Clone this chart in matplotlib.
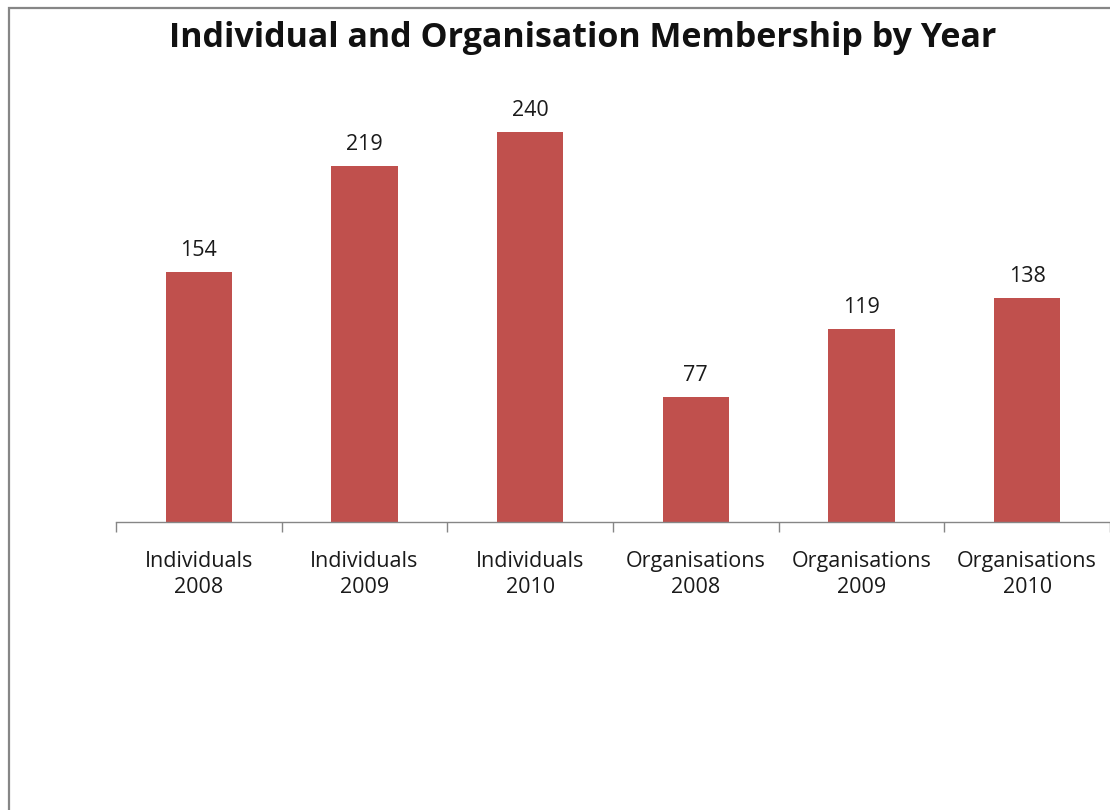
import matplotlib
matplotlib.use("Agg")
import matplotlib.pyplot as plt
from matplotlib.patches import Rectangle

# Membership counts per category
groups = ["Individuals", "Individuals", "Individuals",
          "Organisations", "Organisations", "Organisations"]
years = ["2008", "2009", "2010", "2008", "2009", "2010"]
members = [154, 219, 240, 77, 119, 138]

bar_color = "#C0504D"
axis_gray = "#868686"
text_color = "#1a1a1a"

plt.rcParams["font.family"] = ["Open Sans", "DejaVu Sans"]

fig = plt.figure(figsize=(11.1, 8.1), dpi=100)

# Chart area border (runs off the right and bottom edges)
fig.patches.append(Rectangle((8.5 / 1110, -0.1), 1.2, 1.1 - 7.5 / 810,
                             transform=fig.transFigure, fill=False,
                             edgecolor=axis_gray, linewidth=1.6))

ax = fig.add_axes([116 / 1110, 288 / 810, 994 / 1110, 487.5 / 810])

x = list(range(len(members)))
bars = ax.bar(x, members, width=0.4, color=bar_color)

ax.set_xlim(-0.5, len(members) - 0.5)
ax.set_ylim(0, 300)

# Value labels above each bar
for xi, v in zip(x, members):
    ax.annotate(str(v), (xi, v), xytext=(0, 11.5), textcoords="offset points",
                ha="center", va="baseline", fontsize=15.5, color=text_color)

# Category labels centred, tick marks on the boundaries
ax.set_xticks(x)
ax.set_xticklabels([f"{g}\n{y}" for g, y in zip(groups, years)],
                   fontsize=15.5, color=text_color, linespacing=1.32)
ax.tick_params(axis="x", which="major", length=0, pad=21)
ax.set_xticks([i - 0.5 for i in range(len(members) + 1)], minor=True)
ax.tick_params(axis="x", which="minor", length=7, color=axis_gray, width=1)

ax.set_yticks([])
for side in ["top", "right", "left"]:
    ax.spines[side].set_visible(False)
ax.spines["bottom"].set_color(axis_gray)
ax.spines["bottom"].set_linewidth(1)

fig.text(583 / 1110, 1 - 47 / 810, "Individual and Organisation Membership by Year",
         ha="center", va="baseline", fontsize=24.5, fontweight="bold", color="#111111")

fig.savefig("out.png", dpi=100)
